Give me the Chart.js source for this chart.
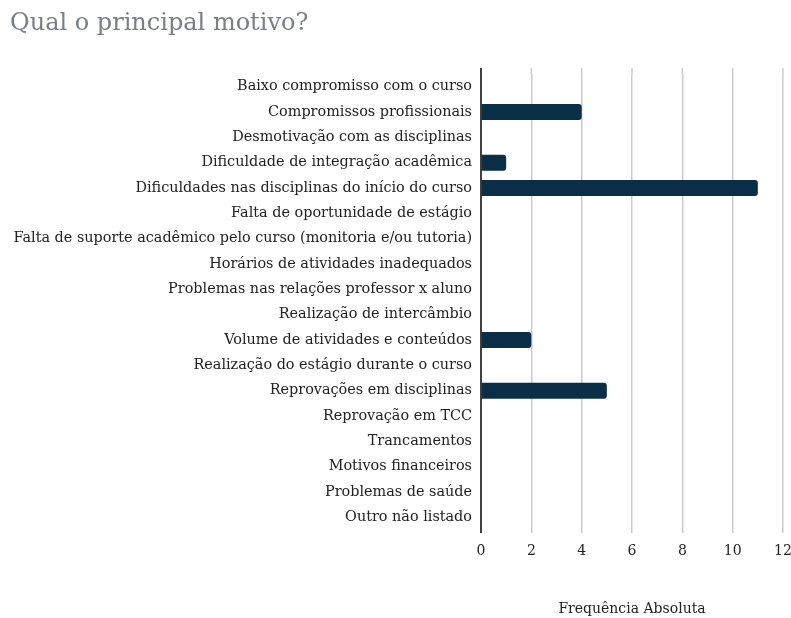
<!DOCTYPE html>
<html>
<head>
<meta charset="utf-8">
<script src="https://cdn.jsdelivr.net/npm/chart.js@4"></script>
<style>
  html, body { margin: 0; padding: 0; background: #fff; }
  #wrap { width: 791px; height: 618px; }
</style>
</head>
<body>
<div id="wrap"><canvas id="motivosChart"></canvas></div>
<script>
const motivos = [
    'Baixo compromisso com o curso',
    'Compromissos profissionais',
    'Desmotivação com as disciplinas',
    'Dificuldade de integração acadêmica',
    'Dificuldades nas disciplinas do início do curso',
    'Falta de oportunidade de estágio',
    'Falta de suporte acadêmico pelo curso (monitoria e/ou tutoria)',
    'Horários de atividades inadequados',
    'Problemas nas relações professor x aluno',
    'Realização de intercâmbio',
    'Volume de atividades e conteúdos',
    'Realização do estágio durante o curso',
    'Reprovações em disciplinas',
    'Reprovação em TCC',
    'Trancamentos',
    'Motivos financeiros',
    'Problemas de saúde',
    'Outro não listado'
];
const frequencias = [0, 4, 0, 1, 11, 0, 0, 0, 0, 0, 2, 0, 5, 0, 0, 0, 0, 0];
const eixoMax = 12;
const eixoPasso = 2;

const fonte = "'DejaVu Serif', Georgia, serif";
const corGrade = '#cccccc';

// the grid lines and the axis line reach a little above the first category
const extensaoTopo = {
    id: 'extensaoTopo',
    beforeDatasetsDraw(chart) {
        const { ctx, chartArea, scales } = chart;
        const topo = chartArea.top - 6;
        ctx.save();
        ctx.lineWidth = 1.5;
        ctx.strokeStyle = corGrade;
        scales.x.ticks.forEach((t) => {
            if (t.value === 0) return;
            const x = scales.x.getPixelForValue(t.value);
            ctx.beginPath();
            ctx.moveTo(x, topo);
            ctx.lineTo(x, chartArea.top);
            ctx.stroke();
        });
        ctx.strokeStyle = '#000';
        ctx.beginPath();
        ctx.moveTo(chartArea.left, topo);
        ctx.lineTo(chartArea.left, chartArea.bottom + 3);
        ctx.stroke();
        ctx.restore();
    }
};

const ctx = document.getElementById('motivosChart').getContext('2d');
new Chart(ctx, {
    type: 'bar',
    data: {
        labels: motivos,
        datasets: [{
            label: 'Frequência Absoluta',
            data: frequencias,
            backgroundColor: '#0b2e47',
            borderRadius: 3,
            borderSkipped: 'start',
            barPercentage: 0.63,
            categoryPercentage: 1
        }]
    },
    options: {
        indexAxis: 'y',
        responsive: true,
        maintainAspectRatio: false,
        animation: false,
        layout: {
            padding: { left: 10, right: 8, top: 0, bottom: 0 }
        },
        scales: {
            x: {
                min: 0,
                max: eixoMax,
                ticks: {
                    stepSize: eixoPasso,
                    color: '#222',
                    padding: 10,
                    font: { family: fonte, size: 14 }
                },
                grid: {
                    color: (c) => c.tick && c.tick.value === 0 ? 'rgba(0,0,0,0)' : corGrade,
                    lineWidth: 1.5,
                    drawTicks: true,
                    tickLength: 3
                },
                border: { display: false },
                title: {
                    display: true,
                    text: 'Frequência Absoluta',
                    color: '#222',
                    font: { family: fonte, size: 14 },
                    padding: { top: 0, bottom: 0 }
                },
                afterFit: (scale) => {
                    scale.height = 88;
                    scale.paddingLeft = 0;
                    scale.paddingRight = 0;
                }
            },
            y: {
                ticks: {
                    color: '#222',
                    padding: 9,
                    font: { family: fonte, size: 14.4 }
                },
                grid: { display: false, drawTicks: false },
                border: { display: false },
                afterFit: (scale) => {
                    scale.width = 471;
                    scale.paddingTop = 0;
                    scale.paddingBottom = 0;
                }
            }
        },
        plugins: {
            legend: { display: false },
            tooltip: { enabled: false },
            title: {
                display: true,
                text: 'Qual o principal motivo?',
                align: 'start',
                color: '#7a7f84',
                font: { family: fonte, size: 24, weight: 'normal' },
                padding: { top: 9, bottom: 36.2 }
            }
        }
    },
    plugins: [extensaoTopo]
});
</script>
</body>
</html>
